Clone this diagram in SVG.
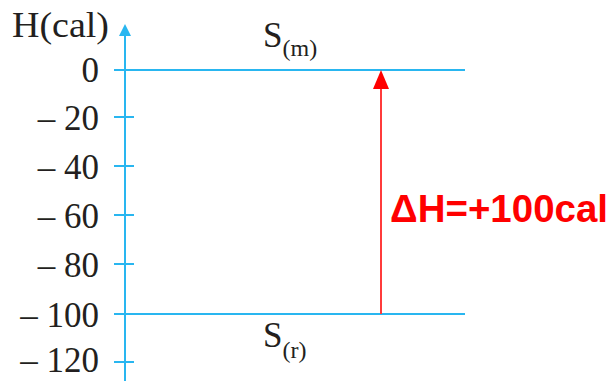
<svg xmlns="http://www.w3.org/2000/svg" width="613" height="381" viewBox="0 0 613 381">
<style>
.ax{stroke:#29B6F0;stroke-width:2;fill:none}
.lbl{font-family:"Liberation Serif",serif;font-size:35px;fill:#231F20;text-anchor:end}
.s{font-family:"Liberation Serif",serif;font-size:35px;fill:#231F20}
.sub{font-size:24px}
</style>
<rect width="613" height="381" fill="#fff"/>
<g id="axis">
<line class="ax" x1="125" y1="34" x2="125" y2="381"/>
<polygon points="125,24 119,36 131,36" fill="#29B6F0"/>
<line class="ax" x1="114" y1="117" x2="134" y2="117"/>
<line class="ax" x1="114" y1="166" x2="134" y2="166"/>
<line class="ax" x1="114" y1="215" x2="134" y2="215"/>
<line class="ax" x1="114" y1="264" x2="134" y2="264"/>
<line class="ax" x1="114" y1="362" x2="134" y2="362"/>
<text class="lbl" x="109" y="37" textLength="97" lengthAdjust="spacingAndGlyphs">H(cal)</text>
<text class="lbl" x="99" y="82">0</text>
<text class="lbl" x="99" y="130">– 20</text>
<text class="lbl" x="99" y="179">– 40</text>
<text class="lbl" x="99" y="228">– 60</text>
<text class="lbl" x="99" y="277">– 80</text>
<text class="lbl" x="99" y="327">– 100</text>
<text class="lbl" x="99" y="372">– 120</text>
</g>
<g id="level-m">
<line class="ax" x1="114" y1="70" x2="465" y2="70"/>
<text class="s" x="263" y="47">S<tspan class="sub" dy="9">(m)</tspan></text>
</g>
<g id="level-r">
<line class="ax" x1="114" y1="314" x2="465" y2="314"/>
<text class="s" x="263" y="347">S<tspan class="sub" dy="11">(r)</tspan></text>
</g>
<g id="connectors">
<line x1="381" y1="314" x2="381" y2="86" stroke="#FF3B3B" stroke-width="2"/>
<polygon points="381,70 373,89 389,89" fill="#FF0000"/>
<text x="390" y="222" font-family="Liberation Sans,Arial,sans-serif" font-weight="bold" font-size="38" fill="#FF0000" textLength="218" lengthAdjust="spacingAndGlyphs">ΔH=+100cal</text>
</g>
</svg>
